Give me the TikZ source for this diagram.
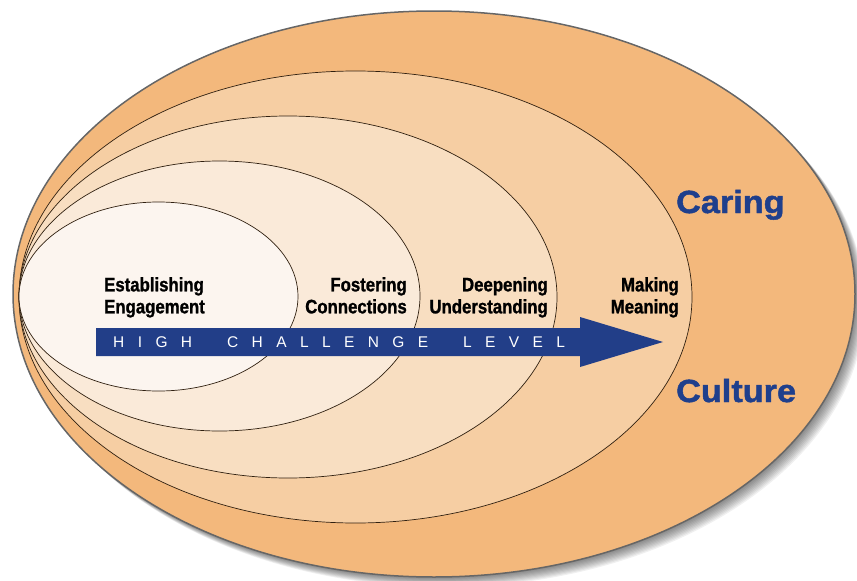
\documentclass[tikz,border=0pt]{standalone}
\usepackage{fontspec}
\setmainfont{Liberation Sans}
\newfontfamily\labelfont{Liberation Sans}[FakeStretch=0.86, FakeBold=1.2]
\newfontfamily\titlefont{Liberation Sans}[FakeStretch=1.07, FakeBold=1.5]
\usepackage{tikz}
\definecolor{outerorange}{RGB}{243,184,124}
\definecolor{ringfour}{RGB}{246,206,163}
\definecolor{ringthree}{RGB}{248,222,193}
\definecolor{ringtwo}{RGB}{250,234,217}
\definecolor{ringone}{RGB}{252,245,239}
\definecolor{levelblue}{RGB}{34,62,136}
\definecolor{titleblue}{RGB}{31,63,140}
% letters of a word set apart by a fixed gap
\def\spreadloop#1{\ifx#1\relax\else#1\hspace{13.4pt}\expandafter\spreadloop\fi}
\def\spread#1{\spreadloop#1\relax}
\tikzset{
	stage/.style={inner sep=0pt, align=#1, font=\labelfont\bfseries\fontsize{19.5}{22}\selectfont},
	culture/.style={inner sep=0pt, anchor=base west, text=titleblue, font=\titlefont\bfseries\fontsize{32}{36}\selectfont},
}

\begin{document}
\begin{tikzpicture}[x=1pt, y=-1pt]
		%%%%% START %%%%%
		\useasboundingbox (0, 0) rectangle (857, 581);
		
		% shadow of the outer ring
		\foreach \d in {1,...,10}
			\fill[black, opacity=0.06] (434+\d, 294+\d) ellipse (421 and 283);
		
		\draw[line width=1.5pt, color=black!60, fill=outerorange] (434, 294) ellipse (421 and 283);
		\draw[line width=0.7pt, color=black!75!brown, fill=ringfour] (355.5, 297) ellipse (336.5 and 226);
		\draw[line width=0.7pt, color=black!75!brown, fill=ringthree] (288, 297) ellipse (269 and 181);
		\draw[line width=0.7pt, color=black!75!brown, fill=ringtwo] (219.5, 296) ellipse (200.5 and 135);
		\draw[line width=0.7pt, color=black!75!brown, fill=ringone] (158.5, 296.5) ellipse (139.5 and 94.5);
		
		\node[stage=left, anchor=north west] (establish) at (104, 277) {Establishing\\Engagement};
		\node[stage=right, anchor=north east] (foster) at (407, 277) {Fostering\\Connections};
		\node[stage=right, anchor=north east] (deepen) at (548, 277) {Deepening\\Understanding};
		\node[stage=right, anchor=north east] (making) at (679, 277) {Making\\Meaning};
		
		\fill[levelblue] (96, 328) -- (580, 328) -- (580, 317) -- (663, 342)
			-- (580, 367) -- (580, 356) -- (96, 356) -- cycle;
		\node[inner sep=0pt, anchor=base west, text=white, font=\fontsize{15.5}{18}\selectfont] (level) at (113, 347)
			{\spread{HIGH}\hspace{21.6pt}\spread{CHALLENGE}\hspace{21.6pt}\spread{LEVEL}};
		
		\node[culture] (caring) at (676, 213) {Caring};
		\node[culture] (culture) at (676, 402) {Culture};
		
		%%%%% END %%%%%
	\end{tikzpicture}
\end{document}
